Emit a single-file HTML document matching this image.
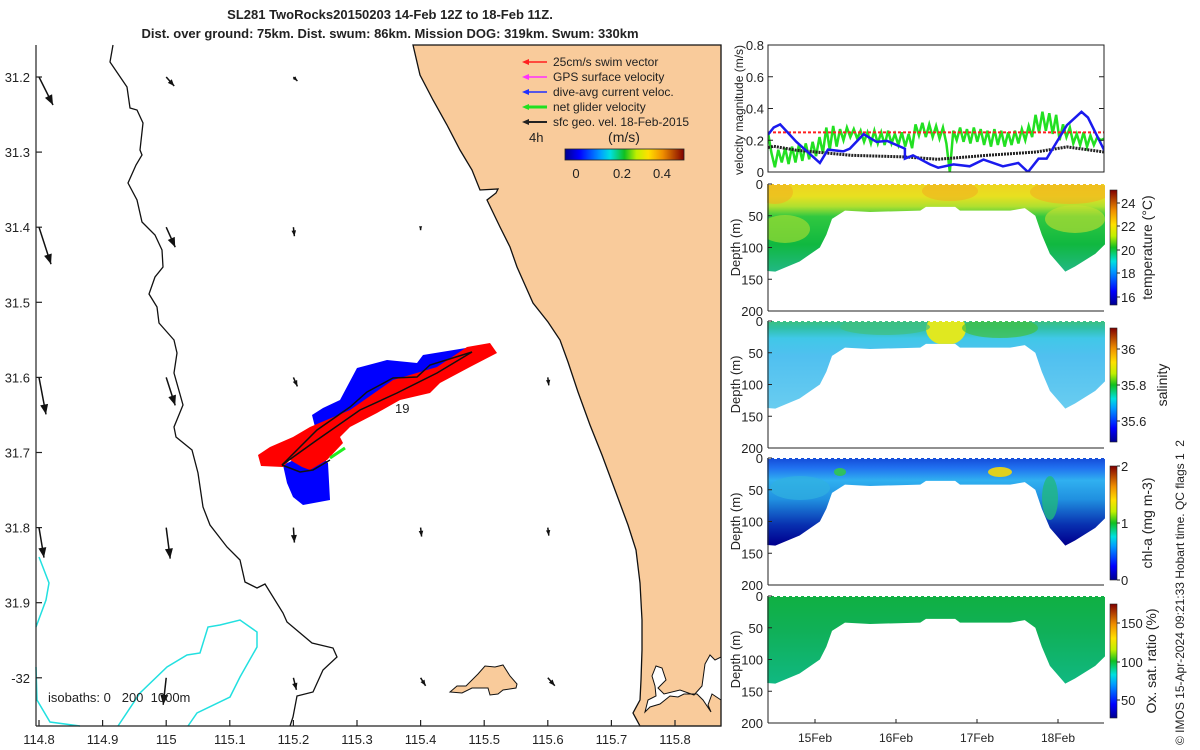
<!DOCTYPE html>
<html><head><meta charset="utf-8"><style>
html,body{margin:0;padding:0;background:#fff;}
svg{display:block;font-family:"Liberation Sans",sans-serif;}
text{fill:#222;}
</style></head>
<body>
<svg id="fig" width="1200" height="750" viewBox="0 0 1200 750">
<defs>
<linearGradient id="jetH" x1="0" y1="0" x2="1" y2="0">
<stop offset="0" stop-color="#00008f"/><stop offset="0.12" stop-color="#0000ff"/><stop offset="0.3" stop-color="#00a0ff"/><stop offset="0.38" stop-color="#00e0e0"/><stop offset="0.5" stop-color="#10c020"/><stop offset="0.6" stop-color="#c0f000"/><stop offset="0.7" stop-color="#ffe000"/><stop offset="0.82" stop-color="#f09000"/><stop offset="1" stop-color="#800000"/></linearGradient>
<linearGradient id="jetV" x1="0" y1="1" x2="0" y2="0">
<stop offset="0" stop-color="#00008f"/><stop offset="0.12" stop-color="#0000ff"/><stop offset="0.3" stop-color="#00a0ff"/><stop offset="0.38" stop-color="#00e0e0"/><stop offset="0.5" stop-color="#10c020"/><stop offset="0.6" stop-color="#c0f000"/><stop offset="0.7" stop-color="#ffe000"/><stop offset="0.82" stop-color="#f09000"/><stop offset="1" stop-color="#800000"/></linearGradient>
<linearGradient id="gTemp" x1="0" y1="0" x2="0" y2="1">
<stop offset="0" stop-color="#f0d020"/><stop offset="0.12" stop-color="#e8e020"/><stop offset="0.2" stop-color="#b0e030"/><stop offset="0.28" stop-color="#30c840"/><stop offset="0.5" stop-color="#10b840"/><stop offset="0.7" stop-color="#20b880"/></linearGradient>
<linearGradient id="gSal" x1="0" y1="0" x2="0" y2="1">
<stop offset="0" stop-color="#40c070"/><stop offset="0.08" stop-color="#30c0a8"/><stop offset="0.16" stop-color="#40c8e8"/><stop offset="0.3" stop-color="#50c0f0"/><stop offset="0.7" stop-color="#68ccf0"/></linearGradient>
<linearGradient id="gChl" x1="0" y1="0" x2="0" y2="1">
<stop offset="0" stop-color="#1040d0"/><stop offset="0.1" stop-color="#2070f0"/><stop offset="0.2" stop-color="#30b0f0"/><stop offset="0.35" stop-color="#2090e0"/><stop offset="0.55" stop-color="#0830b0"/><stop offset="0.7" stop-color="#00008f"/></linearGradient>
<linearGradient id="gOx" x1="0" y1="0" x2="0" y2="1">
<stop offset="0" stop-color="#10b040"/><stop offset="0.3" stop-color="#10b058"/><stop offset="0.7" stop-color="#10b880"/></linearGradient>
</defs>

<text x="390" y="19" text-anchor="middle" font-size="13" font-weight="bold">SL281 TwoRocks20150203 14-Feb 12Z to 18-Feb 11Z.</text>
<text x="390" y="38" text-anchor="middle" font-size="13" font-weight="bold">Dist. over ground: 75km. Dist. swum: 86km. Mission DOG: 319km. Swum: 330km</text>

<g id="map"></g>
<g id="vel"></g>
<g id="sections"></g>

<text transform="translate(1184,745) rotate(-90)" font-size="12" xml:space="preserve">© IMOS 15-Apr-2024 09:21:33 Hobart time. QC flags 1  2</text>
</svg>
<script>
// ---------- DATA ----------
const mapLonTicks = [114.8,114.9,115,115.1,115.2,115.3,115.4,115.5,115.6,115.7,115.8];
const mapLatTicks = [31.2,31.3,31.4,31.5,31.6,31.7,31.8,31.9,32.0];
const mapLatLabels = ["31.2","31.3","31.4","31.5","31.6","31.7","31.8","31.9","-32"];
const arrowLon = [114.8,115.0,115.2, 114.8,115.0,115.2,115.4, 114.8,115.0,115.2,115.6, 114.8,115.0,115.2,115.4,115.6, 115.0,115.2,115.4,115.6];
const arrowLat = [31.2,31.2,31.2, 31.4,31.4,31.4,31.4, 31.6,31.6,31.6,31.6, 31.8,31.8,31.8,31.8,31.8, 32.0,32.0,32.0,32.0];
const arrowU = [0.14,0.08,0.04, 0.12,0.09,0.01,0.0, 0.07,0.09,0.04,0.01, 0.05,0.04,0.01,0.01,0.01, -0.03,0.03,0.05,0.07];
const arrowV = [-0.28,-0.09,-0.04, -0.37,-0.20,-0.09,-0.03, -0.37,-0.28,-0.09,-0.08, -0.30,-0.31,-0.15,-0.09,-0.08, -0.27,-0.12,-0.08,-0.08];

const velTicks = [0,0.2,0.4,0.6,0.8];
const velTickLabels = ["0","0.2","0.4","0.6","0.8"];
const dayTicks = [15,16,17,18];
const dayTickLabels = ["15Feb","16Feb","17Feb","18Feb"];
const swimSpeed = 0.25;
const blueDays = [14.42,14.49,14.57,14.77,15.06,15.16,15.35,15.43,15.60,15.76,15.89,16.11,16.11,16.21,16.42,16.52,16.71,16.91,17.08,17.32,17.51,17.63,17.76,17.86,18.11,18.29,18.37,18.57];
const blueVals = [0.236,0.28,0.30,0.19,0.057,0.141,0.13,0.147,0.238,0.19,0.196,0.147,0.084,0.105,0.048,0.027,0.048,0.036,0.078,0.036,0.057,0.0,0.084,0.084,0.295,0.379,0.343,0.137];
const blackDays = [14.42,14.49,14.77,15.45,16.11,16.52,17.12,17.73,18.11,18.57];
const blackVals = [0.154,0.162,0.137,0.105,0.095,0.08,0.105,0.126,0.158,0.126];
const greenStart = 14.42, greenEnd = 18.57;
const greenVals = [0.25,0.12,0.03,0.14,0.06,0.15,0.05,0.16,0.06,0.17,0.07,0.18,0.08,0.19,0.10,0.22,0.12,0.28,0.14,0.29,0.16,0.27,0.20,0.28,0.22,0.27,0.21,0.26,0.19,0.25,0.18,0.26,0.18,0.25,0.17,0.26,0.18,0.24,0.17,0.25,0.16,0.24,0.15,0.30,0.23,0.31,0.22,0.30,0.22,0.29,0.21,0.28,0.18,0.00,0.26,0.20,0.28,0.19,0.27,0.18,0.28,0.19,0.27,0.17,0.26,0.16,0.27,0.17,0.26,0.16,0.25,0.17,0.26,0.18,0.27,0.20,0.29,0.22,0.36,0.25,0.38,0.26,0.37,0.24,0.36,0.20,0.30,0.22,0.28,0.18,0.24,0.17,0.25,0.16,0.23,0.17,0.22,0.20,0.21];
const depthTicks = [0,50,100,150,200];
const profileDays = [14.41,14.51,14.81,15.06,15.14,15.21,15.37,15.68,16.30,16.37,16.73,16.79,17.41,17.59,17.72,17.80,17.90,18.09,18.21,18.46,18.58];
const profileDepth = [137,138,122,100,80,55,42,44,42,36,36,42,42,38,50,80,110,138,130,110,95];

const NS='http://www.w3.org/2000/svg';
function mk(tag, attrs, parent, txt){const e=document.createElementNS(NS,tag);for(const k in attrs)e.setAttribute(k,attrs[k]);if(txt!==undefined)e.textContent=txt;parent.appendChild(e);return e;}

// ---------- MAP ----------
const map=document.getElementById('map');
const lonX = lon => 39 + (lon-114.8)*636;
const latY = lat => 77 + (lat-31.2)*751;
const land = mk('path',{d:"M413,45 L420,75 L433,100 L447,125 L460,150 L472,170 L480,190 L498,189 L496,193 L487,200 L500,227 L510,247 L517,267 L525,285 L533,303 L548,322 L560,340 L568,362 L578,392 L590,425 L602,455 L615,490 L628,525 L636,550 L640,583 L642,620 L642,650 L641,680 L640,700 L633,713 L640,726 L721,726 L721,45 Z",fill:"#f9cb9b",stroke:"#111","stroke-width":1.3},map);


const est = mk('path',{d:"M656,666 L662,668 L666,680 L658,688 L664,694 L680,690 L694,695 L702,686 L705,664 L710,655 L715,660 L721,657 L721,700 L712,694 L708,705 L711,712 L703,700 L697,694 L684,694 L678,697 L670,696 L660,704 L650,707 L645,712 L648,700 L656,696 L655,686 L652,676 Z",fill:"#fff",stroke:"#111","stroke-width":1},map);


const isl = mk('path',{d:"M450,692 L457,686 L466,686 L478,674 L485,666 L495,667 L503,665 L510,676 L517,684 L516,688 L503,690 L498,694 L490,695 L488,688 L472,688 L462,693 Z",fill:"#f9cb9b",stroke:"#111","stroke-width":1},map);


const iso1000 = mk('polyline',{points:"113,45 110,62 127,87 130,108 137,110 143,123 140,150 142,155 136,165 128,183 137,200 142,222 155,235 162,250 163,267 155,277 149,294 157,307 159,323 174,340 177,353 174,373 183,405 174,427 176,437 192,450 198,473 203,507 210,525 227,547 240,560 245,582 257,588 265,584 283,613 287,622 312,643 333,648 337,657 323,670 313,692 297,696 293,717 290,726",fill:"none",stroke:"#111","stroke-width":1.3},map);


const cy1 = mk('polyline',{points:"39,557 49,583 46,600 36,627",fill:"none",stroke:"#22e0e0","stroke-width":1.5},map);


const cy2 = mk('polyline',{points:"36,667 37,700 50,722 80,726",fill:"none",stroke:"#22e0e0","stroke-width":1.5},map);


const cy3 = mk('polyline',{points:"118,726 140,693 167,667 187,655 200,653 208,627 220,625 240,620 257,632 257,647 240,677 230,697 197,713 188,726",fill:"none",stroke:"#22e0e0","stroke-width":1.5},map);



// arrows
for(let i=0;i<arrowLon.length;i++){
  const x0=lonX(arrowLon[i]), y0=latY(arrowLat[i]);
  const x1=x0+arrowU[i]*100, y1=y0-arrowV[i]*100;
  const g=mk('g',{},map);
  
  
  mk('line',{x1:x0,y1:y0,x2:x1,y2:y1,stroke:"#111","stroke-width":1.5},g);
  const L=Math.hypot(x1-x0,y1-y0)||1, ux=(x1-x0)/L, uy=(y1-y0)/L, h=Math.min(10,3+L*0.3), w=h*0.4;
  mk('path',{d:`M${x1},${y1} L${x1-ux*h-uy*w},${y1-uy*h+ux*w} L${x1-ux*h+uy*w},${y1-uy*h-ux*w} Z`,fill:"#111"},g);
}
// glider track
const blue=mk('path',{d:"M283,465 L287,483 L293,497 L303,505 L330,500 L328,463 L307,440 L315,427 L312,415 L323,408 L340,400 L357,368 L387,360 L417,363 L423,355 L472,347 L457,357 L420,377 L383,397 L350,423 L317,443 L300,457 Z",fill:"#0000ff"},map);


const red=mk('path',{d:"M258,455 L261,466 L283,467 L290,460 L302,467 L310,470 L327,460 L343,443 L340,437 L350,427 L377,413 L400,400 L430,393 L440,383 L470,367 L497,353 L490,343 L467,347 L437,367 L393,380 L350,410 L310,427 L293,437 L270,447 Z",fill:"#ff0000"},map);


const gr=mk('line',{x1:330,y1:458,x2:345,y2:448,stroke:"#22ee22","stroke-width":3},map);


const tr=mk('g',{fill:"none",stroke:"#111","stroke-width":1.5},map);


mk('polyline',{points:"282,465 317,430 350,407 367,392 393,378 417,377 430,365 472,352"},tr);
mk('polyline',{points:"282,465 317,440 360,410 397,393 437,373 472,352"},tr);
mk('polyline',{points:"282,465 300,472 313,470 330,460"},tr);
const t19=mk('text',{x:395,y:413,"font-size":13},map,"19");



// axes
const ax=mk('g',{stroke:"#222","stroke-width":1.2},map);


mk('line',{x1:36,y1:45,x2:36,y2:726},ax);
mk('line',{x1:36,y1:726,x2:721,y2:726},ax);
mapLonTicks.forEach(l=>{const x=lonX(l);mk('line',{x1:x,y1:726,x2:x,y2:720},ax);
  const t=mk('text',{x:x,y:744,"text-anchor":"middle","font-size":13,stroke:"none"},map,String(l));
  
  });
mapLatTicks.forEach((l,i)=>{const y=latY(l);mk('line',{x1:36,y1:y,x2:42,y2:y},ax);
  const t=mk('text',{x:30,y:y+5,"text-anchor":"end","font-size":13},map,mapLatLabels[i]);
  
  });
const isoT=mk('text',{x:48,y:702,"font-size":13,"xml:space":"preserve",style:"white-space:pre"},map,"isobaths: 0   200  1000m");



// legend
const leg=mk('g',{},map);


const legItems=[["25cm/s swim vector","#ff2020",1.5],["GPS surface velocity","#ff30ff",1.5],["dive-avg current veloc.","#2030ff",1.5],["net glider velocity","#20e020",3],["sfc geo. vel. 18-Feb-2015","#222",2]];
legItems.forEach((it,i)=>{const y=62+i*15;
  const g=mk('g',{},leg);
  
  
  mk('line',{x1:525,y1:y,x2:547,y2:y,stroke:it[1],"stroke-width":it[2]},g);
  mk('path',{d:`M522,${y} L529,${y-3} L529,${y+3} Z`,fill:it[1]},g);
  mk('text',{x:553,y:y+4,"font-size":12},g,it[0]);});
mk('text',{x:529,y:142,"font-size":13},leg,"4h");
mk('text',{x:624,y:142,"text-anchor":"middle","font-size":14},leg,"(m/s)");
const hcb=mk('rect',{x:565,y:149,width:119,height:11,fill:"url(#jetH)",stroke:"#222","stroke-width":0.8},leg);


[["0",576],["0.2",622],["0.4",662]].forEach(a=>mk('text',{x:a[1],y:178,"text-anchor":"middle","font-size":13},leg,a[0]));

// ---------- VELOCITY PANEL ----------
const vel=document.getElementById('vel');
const dX = d => 815 + (d-15)*81;
const vL=768,vR=1104,vT=45,vB=172;
const vY = v => vB - v/0.8*(vB-vT);
const cp=mk('clipPath',{id:'vclip'},vel); mk('rect',{x:vL,y:vT,width:vR-vL,height:vB-vT},cp);
const vg=mk('g',{"clip-path":"url(#vclip)"},vel);
const gPts=greenVals.map((v,i)=>`${dX(greenStart+i*(greenEnd-greenStart)/(greenVals.length-1))},${vY(v)}`).join(' ');
const gl=mk('polyline',{points:gPts,fill:"none",stroke:"#22e022","stroke-width":2.5},vg);


const rl=mk('line',{x1:vL,x2:vR,y1:vY(swimSpeed),y2:vY(swimSpeed),stroke:"#ff2020","stroke-width":2,"stroke-dasharray":"3,2"},vg);


const kl=mk('polyline',{points:blackDays.map((d,i)=>`${dX(d)},${vY(blackVals[i])}`).join(' '),fill:"none",stroke:"#222","stroke-width":3,"stroke-dasharray":"2,1"},vg);


const bl=mk('polyline',{points:blueDays.map((d,i)=>`${dX(d)},${vY(blueVals[i])}`).join(' '),fill:"none",stroke:"#1a1aee","stroke-width":2.5},vg);


const vbox=mk('rect',{x:vL,y:vT,width:vR-vL,height:vB-vT,fill:"none",stroke:"#222","stroke-width":1},vel);


velTicks.forEach((v,i)=>{const y=vY(v);mk('line',{x1:vL,x2:vL+5,y1:y,y2:y,stroke:"#222"},vel);mk('line',{x1:vR,x2:vR-5,y1:y,y2:y,stroke:"#222"},vel);
  const t=mk('text',{x:vL-4,y:y+5,"text-anchor":"end","font-size":13},vel,velTickLabels[i]);
  
  });
const vyt=mk('text',{transform:"translate(743,110) rotate(-90)","text-anchor":"middle","font-size":12},vel,"velocity magnitude (m/s)");



// ---------- DEPTH SECTIONS ----------
const sec=document.getElementById('sections');
const panels=[
 {top:184,grad:"gTemp",name:"temperature-section",cbT:190,cbB:305,cbTicks:[["24",203],["22",226],["20",250],["18",273],["16",297]],label:"temperature (°C)",lx:1152},
 {top:321,grad:"gSal",name:"salinity-section",cbT:328,cbB:442,cbTicks:[["36",349],["35.8",385],["35.6",421]],label:"salinity",lx:1167},
 {top:458,grad:"gChl",name:"chlorophyll-section",cbT:466,cbB:580,cbTicks:[["2",466],["1",523],["0",580]],label:"chl-a (mg m-3)",lx:1152},
 {top:596,grad:"gOx",name:"oxygen-section",cbT:604,cbB:718,cbTicks:[["150",623],["100",662],["50",700]],label:"Ox. sat. ratio (%)",lx:1156}
];
const pH=127;
panels.forEach((p,pi)=>{
  const g=mk('g',{},sec);
  
  
  const dY=d=>p.top+d/200*pH;
  let dd=`M${dX(profileDays[0])},${dY(0)} L${dX(profileDays[profileDays.length-1])},${dY(0)} `;
  for(let i=profileDays.length-1;i>=0;i--) dd+=`L${dX(profileDays[i])},${dY(profileDepth[i])} `;
  dd+='Z';
  const cid='pc'+pi;
  const c=mk('clipPath',{id:cid},g); mk('path',{d:dd},c);
  const inner=mk('g',{"clip-path":`url(#${cid})`},g);
  mk('rect',{x:760,y:p.top-3,width:350,height:pH,fill:`url(#${p.grad})`},inner);
  if(pi===0){
    mk('ellipse',{cx:775,cy:p.top+8,rx:18,ry:12,fill:"#f0b020",opacity:0.6},inner);
    mk('ellipse',{cx:950,cy:p.top+7,rx:28,ry:10,fill:"#f0b020",opacity:0.6},inner);
    mk('ellipse',{cx:1070,cy:p.top+8,rx:40,ry:12,fill:"#f0b020",opacity:0.6},inner);
    mk('ellipse',{cx:1075,cy:p.top+35,rx:30,ry:14,fill:"#c8e030",opacity:0.6},inner);
    mk('ellipse',{cx:785,cy:p.top+45,rx:25,ry:14,fill:"#b0e030",opacity:0.6},inner);
  } else if(pi===1){
    mk('ellipse',{cx:946,cy:p.top+8,rx:20,ry:16,fill:"#e0e820"},inner);
    mk('ellipse',{cx:1000,cy:p.top+7,rx:38,ry:10,fill:"#40c040",opacity:0.7},inner);
    mk('ellipse',{cx:885,cy:p.top+6,rx:45,ry:8,fill:"#40c080",opacity:0.7},inner);
  } else if(pi===2){
    mk('ellipse',{cx:1000,cy:p.top+14,rx:12,ry:5,fill:"#e0d020"},inner);
    mk('ellipse',{cx:840,cy:p.top+14,rx:6,ry:4,fill:"#30c060"},inner);
    mk('ellipse',{cx:1050,cy:p.top+40,rx:8,ry:22,fill:"#20b880",opacity:0.8},inner);
    mk('ellipse',{cx:800,cy:p.top+30,rx:30,ry:12,fill:"#30b0e0",opacity:0.7},inner);
  }
  mk('path',{d:`M${dX(14.42)},${p.top} L${dX(18.58)},${p.top}`,stroke:"#fff","stroke-width":2,"stroke-dasharray":"3,3"},g);
  // axes
  mk('line',{x1:vL,y1:p.top,x2:vL,y2:p.top+pH,stroke:"#222"},g);
  mk('line',{x1:vL,y1:p.top+pH,x2:vR,y2:p.top+pH,stroke:"#222"},g);
  depthTicks.forEach(t=>{const y=dY(t);mk('line',{x1:vL,x2:vL+4,y1:y,y2:y,stroke:"#222"},g);
    const tl=mk('text',{x:vL-5,y:y+5,"text-anchor":"end","font-size":13},g,String(t));
    
    });
  const yt=mk('text',{transform:`translate(740,${p.top+pH/2}) rotate(-90)`,"text-anchor":"middle","font-size":13},g,"Depth (m)");
  
  
  const cb=mk('rect',{x:1110,y:p.cbT,width:7,height:p.cbB-p.cbT,fill:"url(#jetV)",stroke:"#222","stroke-width":0.6},g);
  
  
  p.cbTicks.forEach(t=>{mk('line',{x1:1117,x2:1120,y1:t[1],y2:t[1],stroke:"#222"},g);
    mk('text',{x:1121,y:t[1]+5,"font-size":13},g,t[0]);});
  const cl=mk('text',{transform:`translate(${p.lx},${(p.cbT+p.cbB)/2}) rotate(-90)`,"text-anchor":"middle","font-size":14},g,p.label);
  
  
});
dayTicks.forEach((d,i)=>{const x=dX(d);mk('line',{x1:x,x2:x,y1:723,y2:719,stroke:"#222"},sec);
  const t=mk('text',{x:x,y:742,"text-anchor":"middle","font-size":12},sec,dayTickLabels[i]);
  
  });
</script>
</body></html>
